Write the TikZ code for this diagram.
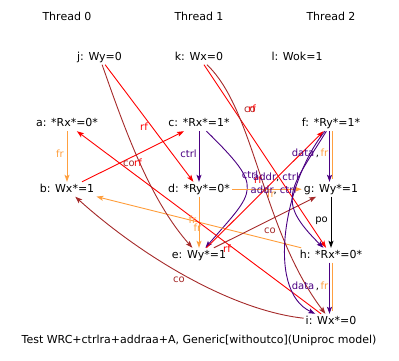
\documentclass[tikz,border=0pt]{standalone}
\usepackage{fontspec}
\setmainfont{DejaVu Sans}
\usetikzlibrary{arrows.meta}
\definecolor{rfcol}{HTML}{FF0000}
\definecolor{cocol}{HTML}{A52A2A}
\definecolor{frcol}{HTML}{FFA040}
\definecolor{depcol}{HTML}{4B0082}
\begin{document}
\begin{tikzpicture}[x=1pt,y=-1pt,
  ev/.style={anchor=base,inner sep=2pt,text height=8pt,text depth=2.5pt,font=\fontsize{11}{13}\selectfont},
  lab/.style={anchor=base,inner sep=0pt,font=\fontsize{10}{12}\selectfont},
  arr/.style={line width=0.9pt,-{Stealth[length=7pt,width=5pt,inset=1.5pt]}},
  rf/.style={arr,rfcol},co/.style={arr,cocol},fr/.style={arr,frcol},dep/.style={arr,depcol},po/.style={arr,black}]
\useasboundingbox (0,0) rectangle (399,361);
\node[ev] (th0) at (67,20.7) {Thread 0};
\node[ev] (th1) at (199,20.7) {Thread 1};
\node[ev] (th2) at (331,20.7) {Thread 2};
\node[ev] (j) at (99.5,60) {j: Wy=0};
\node[ev] (k) at (199,60) {k: Wx=0};
\node[ev] (l) at (297,60) {l: Wok=1};
\node[ev] (a) at (67,126.5) {a: *Rx*=0*};
\node[ev] (c) at (199,126.5) {c: *Rx*=1*};
\node[ev] (f) at (331,126.5) {f: *Ry*=1*};
\node[ev] (b) at (67,192) {b: Wx*=1};
\node[ev] (d) at (199,192) {d: *Ry*=0*};
\node[ev] (g) at (331,192) {g: Wy*=1};
\node[ev] (e) at (199,258) {e: Wy*=1};
\node[ev] (h) at (331,258) {h: *Rx*=0*};
\node[ev] (i) at (331,324) {i: Wx*=0};
\node[ev] (cap) at (199,343) {Test WRC+ctrlra+addraa+A, Generic[withoutco](Uniproc model)};

\draw[fr] (a) -- (b);
\draw[dep] (c) -- (d);
\draw[dep] (c) .. controls (265,189) and (256,189) .. (e);
\draw[fr] (d) -- (e);
\draw[fr] (d) -- (g);
\draw[fr] (h) -- (b);
\draw[rf] (j) -- (d);
\draw[rf] (b) -- (c);
\draw[rf] (i) -- (a);
\draw[rf] (k) -- (h);
\draw[rf] (e) -- (f);
\draw[co] (j) .. controls (125,130) and (150,200) .. (e);
\draw[co] (k) .. controls (255,110) and (262,230) .. (i);
\draw[co] (e) -- (g);
\draw[co] (i) .. controls (230,310) and (140,255) .. (b);
\draw[dep] (f) .. controls (290,190) and (275,200) .. (h);
\draw[dep] (f) .. controls (285,180) and (265,290) .. (i);
\draw[frcol,line width=0.9pt,shorten >=3pt] ([xshift=1.5pt]f.south) -- ([xshift=1.5pt]g.north);
\draw[dep] ([xshift=-1.5pt]f.south) -- ([xshift=-1.5pt]g.north);
\draw[po] (g) -- (h);
\draw[frcol,line width=0.9pt,shorten >=3pt] ([xshift=1.5pt]h.south) -- ([xshift=1.5pt]i.north);
\draw[dep] ([xshift=-1.5pt]h.south) -- ([xshift=-1.5pt]i.north);

\node[lab,frcol] (frab) at (60,157) {fr};
\node[lab,depcol] (ctcd) at (188.5,157) {ctrl};
\node[lab,rfcol] (rfjd) at (144,130) {rf};
\node[lab,cocol] (coje) at (129,166) {co};
\node[lab,rfcol] (rfbc) at (138,166) {rf};
\node[lab,cocol] (coki) at (250,112) {co};
\node[lab,rfcol] (rfkh) at (252,112) {rf};
\node[lab,depcol] (ctce) at (250,178) {ctrl};
\node[lab,rfcol] (rfef) at (258,183) {rf};
\node[lab,frcol] (frdg) at (271,197) {fr};
\node[lab,depcol] (acfh) at (276,180.5) {addr{\color{black},} ctrl};
\node[lab,depcol] (acfi) at (273.5,193) {addr{\color{black},} ctrl};
\node[lab] (dffg) at (310,156.5) {{\color{depcol}data}\hspace{1.5pt},\hspace{1.5pt}{\color{frcol}fr}};
\node[lab] (pogh) at (321.5,222.5) {po};
\node[lab,cocol] (coeg) at (270,233) {co};
\node[lab,frcol] (frde) at (192.5,223) {fr};
\node[lab,frcol] (frhb) at (197.5,231) {fr};
\node[lab,rfcol] (rfia) at (227,252.5) {rf};
\node[lab] (dfhi) at (310,289.5) {{\color{depcol}data}\hspace{1.5pt},\hspace{1.5pt}{\color{frcol}fr}};
\node[lab,cocol] (coib) at (179,282) {co};
\end{tikzpicture}
\end{document}
